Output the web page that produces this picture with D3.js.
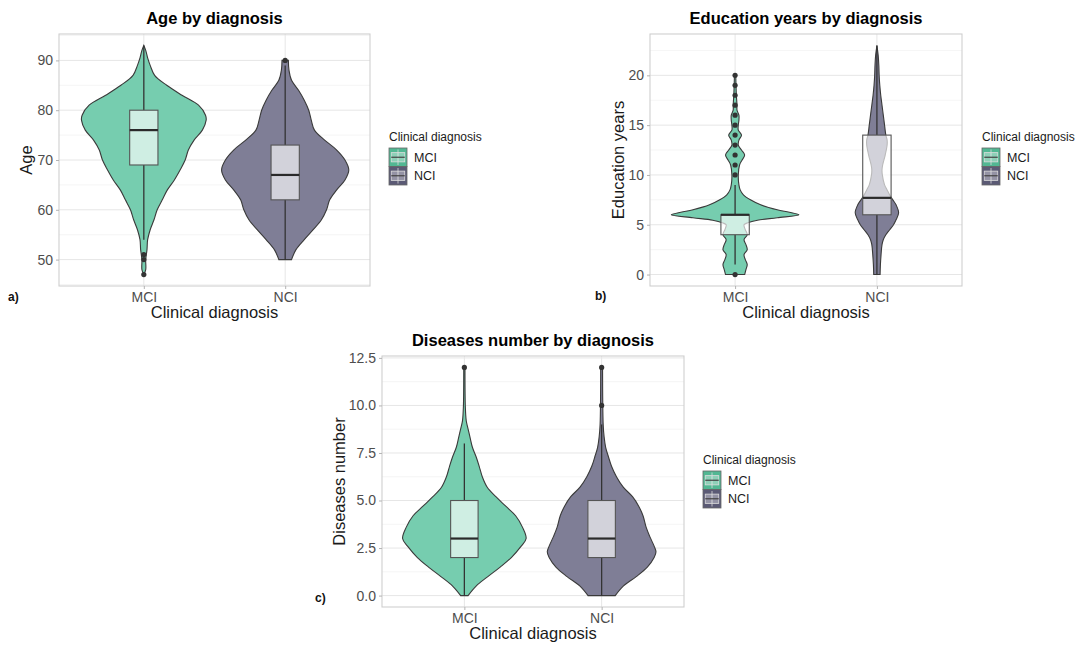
<!DOCTYPE html>
<html>
<head>
<meta charset="utf-8">
<script src="https://cdn.jsdelivr.net/npm/d3@7"></script>
<style>
  body { margin: 0; background: #fff; }
  svg { display: block; font-family: "Liberation Sans", Arial, Helvetica, sans-serif; }
</style>
</head>
<body>
<svg id="fig" width="1079" height="646"></svg>
<script>
// ---- shared ----
const categories = ["MCI", "NCI"];
const groupFill = { MCI: "#76cdaf", NCI: "#7f7e96" };
const keyFill = { MCI: "#52b793", NCI: "#5b5a75" };

// ---- a) Age ----
const ageTicks = [50, 60, 70, 80, 90];
const ageMinor = [45, 55, 65, 75, 85, 95];
// violin profiles: [value, relative density width]
const ageViolinMCI = [[47,0],[48,0.03],[50,0.03],[52,0.05],[54,0.06],[56,0.1],[58,0.16],[60,0.21],[62,0.29],[64,0.37],[66,0.48],[68,0.57],[70,0.65],[72,0.7],[74,0.79],[76,0.92],[78,0.98],[79,0.97],[81,0.86],[83,0.6],[85,0.36],[87,0.17],[89,0.1],[90.5,0.06],[92,0.03],[93,0]];
const ageViolinNCI = [[50,0.1],[52,0.17],[54,0.3],[56,0.44],[58,0.57],[60,0.65],[62,0.7],[64,0.81],[66,0.94],[68,1.0],[70,0.94],[72,0.81],[74,0.62],[76,0.46],[78,0.41],[80,0.37],[82,0.3],[84,0.21],[86,0.1],[88,0.06],[90,0.05]];
// box stats: [lower whisker, Q1, median, Q3, upper whisker]
const ageBoxMCI = [54, 69, 76, 80, 93];
const ageBoxNCI = [50, 62, 67, 73, 89];
const ageOutMCI = [47, 50, 51];
const ageOutNCI = [90];

// ---- b) Education years ----
const eduTicks = [0, 5, 10, 15, 20];
const eduMinor = [2.5, 7.5, 12.5, 17.5, 22.5];
const eduViolinMCI = [[0,0.15],[0.5,0.17],[1,0.19],[1.5,0.16],[2,0.14],[2.5,0.19],[3,0.17],[3.5,0.14],[4,0.19],[4.5,0.16],[5,0.14],[5.2,0.2],[5.45,0.35],[5.7,0.66],[6,1.0],[6.25,0.85],[6.5,0.66],[7,0.4],[7.5,0.24],[8,0.13],[8.5,0.08],[9,0.06],[10,0.05],[11,0.07],[11.5,0.11],[12,0.15],[12.5,0.1],[13,0.05],[13.5,0.06],[14,0.1],[14.5,0.05],[15,0.05],[15.5,0.06],[16,0.06],[16.5,0.03],[17,0.03],[18,0.02],[20,0.01]];
const eduViolinNCI = [[0,0.05],[1,0.055],[2,0.065],[3,0.08],[3.5,0.1],[4,0.14],[4.5,0.2],[5,0.26],[5.5,0.3],[6.2,0.34],[7,0.3],[7.5,0.25],[8,0.2],[8.5,0.16],[9,0.12],[10,0.085],[10.5,0.08],[11,0.09],[12,0.13],[13,0.16],[13.5,0.16],[14,0.14],[15,0.12],[16,0.1],[17,0.08],[18,0.06],[19,0.045],[20,0.035],[21,0.03],[22,0.02],[23,0]];
const eduBoxMCI = [1, 4, 6, 6, 9];
const eduBoxNCI = [0, 6, 7.7, 14, 23];
const eduOutMCI = [0, 10, 11, 12, 13, 14, 15, 16, 17, 18, 19, 20];
const eduOutNCI = [];

// ---- c) Diseases number ----
const disTicks = [0, 2.5, 5, 7.5, 10, 12.5];
const disMinor = [1.25, 3.75, 6.25, 8.75, 11.25];
const disViolinMCI = [[0,0.06],[0.5,0.19],[1,0.38],[1.5,0.58],[2,0.76],[2.6,0.92],[3,1.0],[3.6,0.94],[4.2,0.83],[4.7,0.67],[5.2,0.51],[5.7,0.37],[6.25,0.29],[6.8,0.24],[7.3,0.19],[7.8,0.13],[8.35,0.09],[8.9,0.05],[9.2,0.03],[9.9,0.016],[12,0.01]];
const disViolinNCI = [[0,0.22],[0.5,0.35],[1,0.56],[1.5,0.74],[2,0.85],[2.3,0.88],[2.6,0.85],[3.1,0.78],[3.6,0.72],[4.2,0.67],[4.7,0.6],[5.2,0.5],[5.7,0.35],[6.25,0.24],[6.8,0.16],[7.3,0.11],[7.8,0.065],[8.35,0.04],[9,0.025],[12,0.015]];
const disBoxMCI = [0, 2, 3, 5, 8];
const disBoxNCI = [0, 2, 3, 5, 9];
const disOutMCI = [12];
const disOutNCI = [10, 12];

const svg = d3.select("#fig");

function drawPanel(p) {
  const { left, top, right, bottom } = p.frame;
  const g = svg.append("g");

  const x = d3.scalePoint().domain(categories).range([left, right]).padding(0.6);
  const y = d3.scaleLinear().domain(p.yDomain).range([bottom, top]);
  const step = x.step();
  const w = d3.scaleLinear().domain([0, 1]).range([0, 0.45 * step]);
  const boxHalf = 0.1 * step;

  // grid
  const grid = g.append("g");
  grid.selectAll("line.minor").data(p.yMinor.filter(v => v > p.yDomain[0] && v < p.yDomain[1]))
    .join("line").attr("x1", left).attr("x2", right)
    .attr("y1", d => y(d)).attr("y2", d => y(d))
    .attr("stroke", "#f3f3f3").attr("stroke-width", 0.8);
  grid.selectAll("line.major").data(p.yTicks)
    .join("line").attr("x1", left).attr("x2", right)
    .attr("y1", d => y(d)).attr("y2", d => y(d))
    .attr("stroke", "#e6e6e6").attr("stroke-width", 1);
  grid.selectAll("line.xmajor").data(categories)
    .join("line").attr("y1", top).attr("y2", bottom)
    .attr("x1", d => x(d)).attr("x2", d => x(d))
    .attr("stroke", "#e6e6e6").attr("stroke-width", 1);

  // violins
  categories.forEach(c => {
    const cx = x(c);
    const area = d3.area()
      .y(d => y(d[0]))
      .x0(d => cx - w(d[1]))
      .x1(d => cx + w(d[1]))
      .curve(d3.curveCatmullRom.alpha(0.5));
    g.append("path").datum(p.violins[c]).attr("d", area)
      .attr("fill", groupFill[c]).attr("stroke", "#3a3a3a").attr("stroke-width", 1.1);
  });

  // boxplots
  categories.forEach(c => {
    const cx = x(c);
    const [lo, q1, med, q3, hi] = p.boxes[c];
    const bg = g.append("g");
    bg.append("line").attr("x1", cx).attr("x2", cx).attr("y1", y(lo)).attr("y2", y(q1))
      .attr("stroke", "#333").attr("stroke-width", 1.3);
    bg.append("line").attr("x1", cx).attr("x2", cx).attr("y1", y(q3)).attr("y2", y(hi))
      .attr("stroke", "#333").attr("stroke-width", 1.3);
    bg.append("rect").attr("x", cx - boxHalf).attr("width", 2 * boxHalf)
      .attr("y", y(q3)).attr("height", y(q1) - y(q3))
      .attr("fill", "#fff").attr("fill-opacity", 0.65)
      .attr("stroke", "#555").attr("stroke-width", 1.1);
    bg.append("line").attr("x1", cx - boxHalf).attr("x2", cx + boxHalf)
      .attr("y1", y(med)).attr("y2", y(med))
      .attr("stroke", "#2a2a2a").attr("stroke-width", 2.2);
    bg.selectAll("circle").data(p.outliers[c]).join("circle")
      .attr("cx", cx).attr("cy", d => y(d)).attr("r", 2.6).attr("fill", "#333");
  });

  // panel border
  g.append("rect").attr("x", left).attr("y", top).attr("width", right - left).attr("height", bottom - top)
    .attr("fill", "none").attr("stroke", "#cfcfcf").attr("stroke-width", 1.1);

  // axes
  const ya = g.append("g").attr("transform", `translate(${left},0)`)
    .call(d3.axisLeft(y).tickValues(p.yTicks).tickFormat(p.yFormat).tickSize(3).tickPadding(3));
  const xa = g.append("g").attr("transform", `translate(0,${bottom})`)
    .call(d3.axisBottom(x).tickSize(3).tickPadding(3));
  [ya, xa].forEach(a => {
    a.attr("font-family", null).attr("font-size", null);
    a.select(".domain").remove();
    a.selectAll(".tick line").attr("stroke", "#b3b3b3");
    a.selectAll(".tick text").attr("fill", "#4d4d4d").style("font-size", "14px");
  });

  // titles
  const cxm = (left + right) / 2;
  g.append("text").attr("x", cxm).attr("y", top - 10).attr("text-anchor", "middle")
    .style("font-size", "16.5px").style("font-weight", "bold").attr("fill", "#000").text(p.title);
  g.append("text").attr("x", cxm).attr("y", bottom + 32).attr("text-anchor", "middle")
    .style("font-size", "16.5px").attr("fill", "#1a1a1a").text("Clinical diagnosis");
  g.append("text").attr("transform", `translate(${p.yTitleX},${(top + bottom) / 2}) rotate(-90)`)
    .attr("text-anchor", "middle").style("font-size", "16.5px").attr("fill", "#1a1a1a").text(p.yTitle);

  // panel tag
  g.append("text").attr("x", p.tag[1]).attr("y", p.tag[2])
    .style("font-size", "12px").style("font-weight", "bold").attr("fill", "#111").text(p.tag[0]);

  // legend
  const [lx, ly] = p.legend;
  const lg = g.append("g");
  lg.append("text").attr("x", lx).attr("y", ly).style("font-size", "12px").attr("fill", "#1a1a1a")
    .text("Clinical diagnosis");
  const kw = 18, kh = 18.5;
  categories.forEach((c, i) => {
    const ky = ly + 7 + i * kh;
    lg.append("rect").attr("x", lx).attr("y", ky).attr("width", kw).attr("height", kh)
      .attr("fill", keyFill[c]).attr("stroke", "#666").attr("stroke-width", 0.8);
    lg.append("line").attr("x1", lx + kw / 2).attr("x2", lx + kw / 2)
      .attr("y1", ky + kh * 0.08).attr("y2", ky + kh * 0.92)
      .attr("stroke", "#d9d9d9").attr("stroke-width", 0.8);
    lg.append("rect").attr("x", lx + kw * 0.125).attr("y", ky + kh * 0.25)
      .attr("width", kw * 0.75).attr("height", kh * 0.5)
      .attr("fill", "#fff").attr("fill-opacity", 0.35).attr("stroke", "#ddd").attr("stroke-width", 0.8);
    lg.append("line").attr("x1", lx + kw * 0.125).attr("x2", lx + kw * 0.875)
      .attr("y1", ky + kh / 2).attr("y2", ky + kh / 2)
      .attr("stroke", "#444").attr("stroke-width", 1.2);
    lg.append("text").attr("x", lx + 25).attr("y", ky + kh / 2 + 4.5)
      .style("font-size", "12.5px").attr("fill", "#1a1a1a").text(c);
  });
}

drawPanel({
  title: "Age by diagnosis", yTitle: "Age",
  frame: { left: 59, top: 34, right: 370, bottom: 286 },
  yDomain: [44.7, 95.3], yTicks: ageTicks, yMinor: ageMinor, yFormat: d3.format("d"),
  violins: { MCI: ageViolinMCI, NCI: ageViolinNCI },
  boxes: { MCI: ageBoxMCI, NCI: ageBoxNCI },
  outliers: { MCI: ageOutMCI, NCI: ageOutNCI },
  yTitleX: 32, tag: ["a)", 8, 301], legend: [389, 141]
});

drawPanel({
  title: "Education years by diagnosis", yTitle: "Education years",
  frame: { left: 650, top: 34, right: 962, bottom: 286 },
  yDomain: [-1.15, 24.15], yTicks: eduTicks, yMinor: eduMinor, yFormat: d3.format("d"),
  violins: { MCI: eduViolinMCI, NCI: eduViolinNCI },
  boxes: { MCI: eduBoxMCI, NCI: eduBoxNCI },
  outliers: { MCI: eduOutMCI, NCI: eduOutNCI },
  yTitleX: 624, tag: ["b)", 595, 300], legend: [982, 141]
});

drawPanel({
  title: "Diseases number by diagnosis", yTitle: "Diseases number",
  frame: { left: 382, top: 356, right: 684, bottom: 607 },
  yDomain: [-0.6, 12.6], yTicks: disTicks, yMinor: disMinor, yFormat: d3.format(".1f"),
  violins: { MCI: disViolinMCI, NCI: disViolinNCI },
  boxes: { MCI: disBoxMCI, NCI: disBoxNCI },
  outliers: { MCI: disOutMCI, NCI: disOutNCI },
  yTitleX: 345, tag: ["c)", 315, 602], legend: [703, 464]
});
</script>
</body>
</html>
